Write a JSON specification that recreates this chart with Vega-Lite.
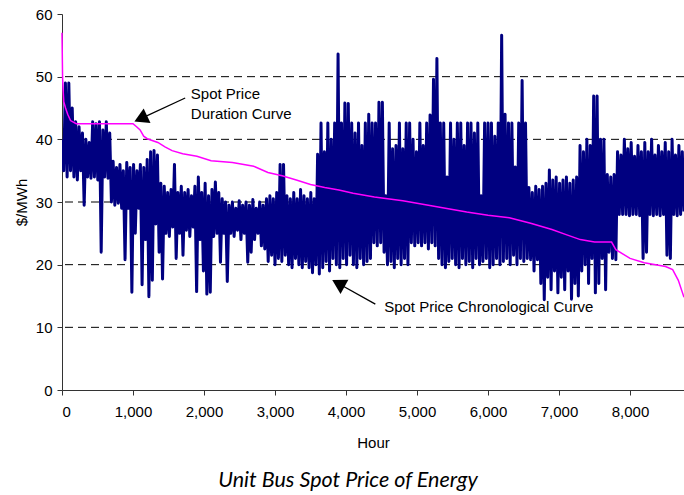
{
  "$schema": "https://vega.github.io/schema/vega-lite/v6.json",
  "autosize": "none",
  "width": 622,
  "height": 376,
  "padding": {"left": 62, "top": 14, "right": 0, "bottom": 105},
  "background": "white",
  "config": {"view": {"stroke": null}},
  "title": {"text": "Unit Bus Spot Price of Energy", "orient": "bottom", "font": "Lato", "fontStyle": "italic", "fontWeight": "normal", "fontSize": 21.5, "color": "#000", "offset": 20, "anchor": "middle", "dx": -25},
  "datasets": {
    "grid": [{"g": 10}, {"g": 20}, {"g": 30}, {"g": 40}, {"g": 50}],
    "chron": [
      {"h":0,"p":40},{"h":24,"p":35},{"h":48,"p":49},{"h":72,"p":34},{"h":96,"p":49},{"h":120,"p":35},{"h":144,"p":45},{"h":168,"p":34},{"h":192,"p":42.8},{"h":216,"p":33.5},
      {"h":240,"p":42},{"h":264,"p":35},{"h":288,"p":41},{"h":312,"p":29.5},{"h":336,"p":40},{"h":360,"p":34},{"h":384,"p":39.5},{"h":408,"p":33.8},{"h":432,"p":42.8},{"h":456,"p":34},
      {"h":480,"p":42.5},{"h":504,"p":33.5},{"h":528,"p":42.8},{"h":552,"p":22},{"h":576,"p":41.5},{"h":600,"p":34},{"h":624,"p":42.8},{"h":648,"p":33.8},{"h":672,"p":41},{"h":696,"p":30},
      {"h":720,"p":36.5},{"h":744,"p":29.5},{"h":768,"p":35.5},{"h":792,"p":29.8},{"h":816,"p":36},{"h":840,"p":29},{"h":864,"p":35},{"h":888,"p":20.8},{"h":912,"p":36.3},{"h":936,"p":29},
      {"h":960,"p":35.5},{"h":984,"p":15.6},{"h":1008,"p":36},{"h":1032,"p":25},{"h":1056,"p":35},{"h":1080,"p":29},{"h":1104,"p":36},{"h":1128,"p":16.8},{"h":1152,"p":35.5},{"h":1176,"p":24},
      {"h":1200,"p":36.8},{"h":1224,"p":14.9},{"h":1248,"p":38},{"h":1272,"p":17.5},{"h":1296,"p":38.2},{"h":1320,"p":26.5},{"h":1344,"p":37.5},{"h":1368,"p":22},{"h":1392,"p":33},{"h":1416,"p":17.7},
      {"h":1440,"p":32.5},{"h":1464,"p":25},{"h":1488,"p":31.5},{"h":1512,"p":24.5},{"h":1536,"p":32},{"h":1560,"p":26},{"h":1584,"p":36},{"h":1608,"p":21},{"h":1632,"p":31.5},{"h":1656,"p":25},
      {"h":1680,"p":32.5},{"h":1704,"p":21.5},{"h":1728,"p":31.5},{"h":1752,"p":25.5},{"h":1776,"p":32},{"h":1800,"p":24.5},{"h":1824,"p":31},{"h":1848,"p":26},{"h":1872,"p":32.5},{"h":1896,"p":15.7},
      {"h":1920,"p":34},{"h":1944,"p":24},{"h":1968,"p":31.5},{"h":1992,"p":19},{"h":2016,"p":33},{"h":2040,"p":15.3},{"h":2064,"p":31},{"h":2088,"p":15.6},{"h":2112,"p":32},{"h":2136,"p":24.5},
      {"h":2160,"p":33.2},{"h":2184,"p":25},{"h":2208,"p":31.5},{"h":2232,"p":20.4},{"h":2256,"p":30.5},{"h":2280,"p":25},{"h":2304,"p":30},{"h":2328,"p":17.3},{"h":2352,"p":29.5},{"h":2376,"p":25},
      {"h":2400,"p":30},{"h":2424,"p":24.5},{"h":2448,"p":29},{"h":2472,"p":25.5},{"h":2496,"p":30.2},{"h":2520,"p":24},{"h":2544,"p":29.5},{"h":2568,"p":25},{"h":2592,"p":30},{"h":2616,"p":20.4},
      {"h":2640,"p":29.5},{"h":2664,"p":22},{"h":2688,"p":30.4},{"h":2712,"p":24},{"h":2736,"p":29},{"h":2760,"p":25},{"h":2784,"p":30},{"h":2808,"p":23},{"h":2832,"p":29.5},{"h":2856,"p":22.5},
      {"h":2880,"p":30.5},{"h":2904,"p":20.5},{"h":2928,"p":31},{"h":2952,"p":21.5},{"h":2976,"p":30.5},{"h":3000,"p":20},{"h":3024,"p":31.5},{"h":3048,"p":21},{"h":3072,"p":36},{"h":3096,"p":20.5},
      {"h":3120,"p":36},{"h":3144,"p":21.5},{"h":3168,"p":31},{"h":3192,"p":20},{"h":3216,"p":30.5},{"h":3240,"p":19.5},{"h":3264,"p":31.5},{"h":3288,"p":21},{"h":3312,"p":30.5},{"h":3336,"p":20},
      {"h":3360,"p":32},{"h":3384,"p":19.5},{"h":3408,"p":31},{"h":3432,"p":20.5},{"h":3456,"p":30.5},{"h":3480,"p":19.5},{"h":3504,"p":31.5},{"h":3528,"p":18.7},{"h":3552,"p":30.5},{"h":3576,"p":20},
      {"h":3600,"p":37.6},{"h":3624,"p":18.5},{"h":3648,"p":42.6},{"h":3672,"p":19.5},{"h":3696,"p":38},{"h":3720,"p":20.5},{"h":3744,"p":42.6},{"h":3768,"p":19},{"h":3792,"p":40},{"h":3816,"p":21},
      {"h":3840,"p":42.6},{"h":3864,"p":20},{"h":3888,"p":53.6},{"h":3912,"p":19.5},{"h":3936,"p":42.6},{"h":3960,"p":21},{"h":3984,"p":45.8},{"h":4008,"p":20},{"h":4032,"p":45.7},{"h":4056,"p":21.5},
      {"h":4080,"p":42.6},{"h":4104,"p":20},{"h":4128,"p":41},{"h":4152,"p":19.5},{"h":4176,"p":42.6},{"h":4200,"p":21},{"h":4224,"p":39},{"h":4248,"p":20},{"h":4272,"p":42.6},{"h":4296,"p":20.5},
      {"h":4320,"p":44},{"h":4344,"p":21},{"h":4368,"p":42.6},{"h":4392,"p":23.5},{"h":4416,"p":42.6},{"h":4440,"p":23},{"h":4464,"p":45.9},{"h":4488,"p":23.5},{"h":4512,"p":45.9},{"h":4536,"p":22},
      {"h":4560,"p":31},{"h":4584,"p":20},{"h":4608,"p":42.6},{"h":4632,"p":20.5},{"h":4656,"p":38.5},{"h":4680,"p":19.5},{"h":4704,"p":39},{"h":4728,"p":21},{"h":4752,"p":42.6},{"h":4776,"p":20},
      {"h":4800,"p":38.5},{"h":4824,"p":21},{"h":4848,"p":42.6},{"h":4872,"p":20},{"h":4896,"p":42.6},{"h":4920,"p":23.5},{"h":4944,"p":40},{"h":4968,"p":23},{"h":4992,"p":38},{"h":5016,"p":23.5},
      {"h":5040,"p":42.6},{"h":5064,"p":23},{"h":5088,"p":39},{"h":5112,"p":23.5},{"h":5136,"p":42.6},{"h":5160,"p":22.5},{"h":5184,"p":43.9},{"h":5208,"p":23.5},{"h":5232,"p":49.6},{"h":5256,"p":23},
      {"h":5280,"p":52.9},{"h":5304,"p":21},{"h":5328,"p":42.6},{"h":5352,"p":20},{"h":5376,"p":42.6},{"h":5400,"p":19.5},{"h":5424,"p":34},{"h":5448,"p":20.5},{"h":5472,"p":42.6},{"h":5496,"p":21},
      {"h":5520,"p":40},{"h":5544,"p":20},{"h":5568,"p":42.6},{"h":5592,"p":19.5},{"h":5616,"p":42.6},{"h":5640,"p":21},{"h":5664,"p":39},{"h":5688,"p":20},{"h":5712,"p":42.6},{"h":5736,"p":20.5},
      {"h":5760,"p":42.6},{"h":5784,"p":19.5},{"h":5808,"p":41},{"h":5832,"p":21},{"h":5856,"p":42.6},{"h":5880,"p":20},{"h":5904,"p":31},{"h":5928,"p":20.5},{"h":5952,"p":42.6},{"h":5976,"p":21},
      {"h":6000,"p":42.6},{"h":6024,"p":19.5},{"h":6048,"p":42.6},{"h":6072,"p":20},{"h":6096,"p":40.5},{"h":6120,"p":21},{"h":6144,"p":42.6},{"h":6168,"p":20},{"h":6192,"p":56.6},{"h":6216,"p":20.5},
      {"h":6240,"p":44},{"h":6264,"p":21},{"h":6288,"p":42.6},{"h":6312,"p":20},{"h":6336,"p":42.6},{"h":6360,"p":21.5},{"h":6384,"p":35.6},{"h":6408,"p":20},{"h":6432,"p":42.6},{"h":6456,"p":21},
      {"h":6480,"p":49.4},{"h":6504,"p":20.5},{"h":6528,"p":42.6},{"h":6552,"p":21},{"h":6576,"p":32.3},{"h":6600,"p":20.8},{"h":6624,"p":31.5},{"h":6648,"p":19},{"h":6672,"p":32.5},{"h":6696,"p":20.8},
      {"h":6720,"p":32},{"h":6744,"p":17},{"h":6768,"p":32.5},{"h":6792,"p":14.4},{"h":6816,"p":33},{"h":6840,"p":18},{"h":6864,"p":35.1},{"h":6888,"p":16},{"h":6912,"p":33.5},{"h":6936,"p":19},
      {"h":6960,"p":34},{"h":6984,"p":15.5},{"h":7008,"p":33},{"h":7032,"p":18},{"h":7056,"p":33.5},{"h":7080,"p":16},{"h":7104,"p":34},{"h":7128,"p":19},{"h":7152,"p":33},{"h":7176,"p":14.5},
      {"h":7200,"p":33.5},{"h":7224,"p":17},{"h":7248,"p":34},{"h":7272,"p":15},{"h":7296,"p":39},{"h":7320,"p":19},{"h":7344,"p":38},{"h":7368,"p":20},{"h":7392,"p":40},{"h":7416,"p":17},
      {"h":7440,"p":39},{"h":7464,"p":21},{"h":7488,"p":46.9},{"h":7512,"p":15.5},{"h":7536,"p":46.9},{"h":7560,"p":17},{"h":7584,"p":40},{"h":7608,"p":21},{"h":7632,"p":40},{"h":7656,"p":16},
      {"h":7680,"p":34.4},{"h":7704,"p":22},{"h":7728,"p":34},{"h":7752,"p":21},{"h":7776,"p":34.4},{"h":7800,"p":20.8},{"h":7824,"p":38},{"h":7848,"p":28},{"h":7872,"p":37.5},{"h":7896,"p":28},
      {"h":7920,"p":40},{"h":7944,"p":28},{"h":7968,"p":38.5},{"h":7992,"p":27.8},{"h":8016,"p":39.5},{"h":8040,"p":28},{"h":8064,"p":37.3},{"h":8088,"p":28},{"h":8112,"p":39},{"h":8136,"p":27.8},
      {"h":8160,"p":38},{"h":8184,"p":21},{"h":8208,"p":39.5},{"h":8232,"p":22},{"h":8256,"p":38},{"h":8280,"p":28},{"h":8304,"p":40},{"h":8328,"p":27.8},{"h":8352,"p":37.5},{"h":8376,"p":28},
      {"h":8400,"p":39},{"h":8424,"p":27.8},{"h":8448,"p":38},{"h":8472,"p":28},{"h":8496,"p":39.5},{"h":8520,"p":21.5},{"h":8544,"p":38},{"h":8568,"p":21},{"h":8592,"p":40},{"h":8616,"p":28},
      {"h":8640,"p":37.5},{"h":8664,"p":27.8},{"h":8688,"p":39},{"h":8712,"p":28},{"h":8736,"p":38},{"h":8760,"p":28.5}
    ],
    "dur": [
      {"h":0,"p":57},{"h":8,"p":50},{"h":15,"p":48},{"h":25,"p":46},{"h":50,"p":45},{"h":80,"p":44},{"h":120,"p":43},{"h":200,"p":42.5},{"h":1000,"p":42.5},{"h":1050,"p":42},
      {"h":1100,"p":41.5},{"h":1150,"p":40.5},{"h":1200,"p":40.1},{"h":1350,"p":39.5},{"h":1450,"p":38.8},{"h":1550,"p":38.2},{"h":1700,"p":37.7},{"h":1900,"p":37.3},{"h":2100,"p":36.6},{"h":2400,"p":36.3},
      {"h":2700,"p":35.7},{"h":2900,"p":34.7},{"h":3100,"p":34.2},{"h":3300,"p":33.5},{"h":3500,"p":32.8},{"h":3700,"p":32.3},{"h":3900,"p":31.9},{"h":4100,"p":31.4},{"h":4400,"p":30.8},{"h":4800,"p":30.2},
      {"h":5100,"p":29.6},{"h":5400,"p":29.0},{"h":5700,"p":28.4},{"h":6000,"p":27.9},{"h":6300,"p":27.5},{"h":6600,"p":26.6},{"h":6900,"p":25.6},{"h":7100,"p":24.8},{"h":7300,"p":24.0},{"h":7500,"p":23.6},
      {"h":7740,"p":23.6},{"h":7800,"p":22.4},{"h":8000,"p":21.0},{"h":8200,"p":20.3},{"h":8500,"p":19.7},{"h":8600,"p":19.2},{"h":8680,"p":17.5},{"h":8760,"p":14.8}
    ],
    "arrows": [
      {"x":1735,"y":46.6,"x2":1109,"y2":43.3},
      {"x":4413,"y":13.7,"x2":3892,"y2":17.0}
    ],
    "heads": [
      {"x":1109,"y":43.3,"a":245},
      {"x":3892,"y":17.0,"a":299}
    ],
    "labels": [
      {"x":1814,"y":47.3,"t":"Spot Price"},
      {"x":1814,"y":44.0,"t":"Duration Curve"},
      {"x":4537,"y":13.2,"t":"Spot Price Chronological Curve"}
    ]
  },
  "layer": [
    {
      "data": {"name": "grid"},
      "mark": {"type": "rule", "color": "#000", "strokeWidth": 1, "strokeDash": [8, 5]},
      "encoding": {
        "y": {"field": "g", "type": "quantitative", "scale": {"domain": [0, 60], "nice": false},
          "axis": {"values": [0,10,20,30,40,50,60], "title": "$/MWh", "grid": false, "tickSize": 5, "labelPadding": 5, "titlePadding": 6,
            "labelFont": "Liberation Sans", "labelFontSize": 15, "labelColor": "#000", "titleFont": "Liberation Sans", "titleFontSize": 15, "titleFontWeight": "normal", "titleColor": "#000",
            "domainColor": "#333", "tickColor": "#333"}}
      }
    },
    {
      "data": {"name": "chron"},
      "mark": {"type": "line", "color": "#000080", "strokeWidth": 3, "strokeJoin": "round", "clip": true},
      "encoding": {
        "x": {"field": "h", "type": "quantitative", "scale": {"domain": [0, 8760], "nice": false},
          "axis": {"values": [0,1000,2000,3000,4000,5000,6000,7000,8000], "format": ",.0f", "title": "Hour", "grid": false, "tickSize": 5, "labelPadding": 9, "titlePadding": 16,
            "labelFont": "Liberation Sans", "labelFontSize": 15, "labelColor": "#000", "titleFont": "Liberation Sans", "titleFontSize": 15, "titleFontWeight": "normal", "titleColor": "#000",
            "domainColor": "#333", "tickColor": "#333"}},
        "y": {"field": "p", "type": "quantitative"}
      }
    },
    {
      "data": {"name": "dur"},
      "mark": {"type": "line", "color": "#FF00FF", "strokeWidth": 1.5},
      "encoding": {
        "x": {"field": "h", "type": "quantitative"},
        "y": {"field": "p", "type": "quantitative"}
      }
    },
    {
      "data": {"name": "arrows"},
      "mark": {"type": "rule", "color": "#000", "strokeWidth": 1.3},
      "encoding": {
        "x": {"field": "x", "type": "quantitative"},
        "y": {"field": "y", "type": "quantitative"},
        "x2": {"field": "x2"},
        "y2": {"field": "y2"}
      }
    },
    {
      "data": {"name": "heads"},
      "mark": {"type": "point", "shape": "triangle-up", "filled": true, "color": "#000", "size": 260, "opacity": 1},
      "encoding": {
        "x": {"field": "x", "type": "quantitative"},
        "y": {"field": "y", "type": "quantitative"},
        "angle": {"field": "a", "type": "quantitative", "scale": null}
      }
    },
    {
      "data": {"name": "labels"},
      "mark": {"type": "text", "align": "left", "baseline": "middle", "font": "Liberation Sans", "fontSize": 15, "color": "#000"},
      "encoding": {
        "x": {"field": "x", "type": "quantitative"},
        "y": {"field": "y", "type": "quantitative"},
        "text": {"field": "t"}
      }
    }
  ]
}
